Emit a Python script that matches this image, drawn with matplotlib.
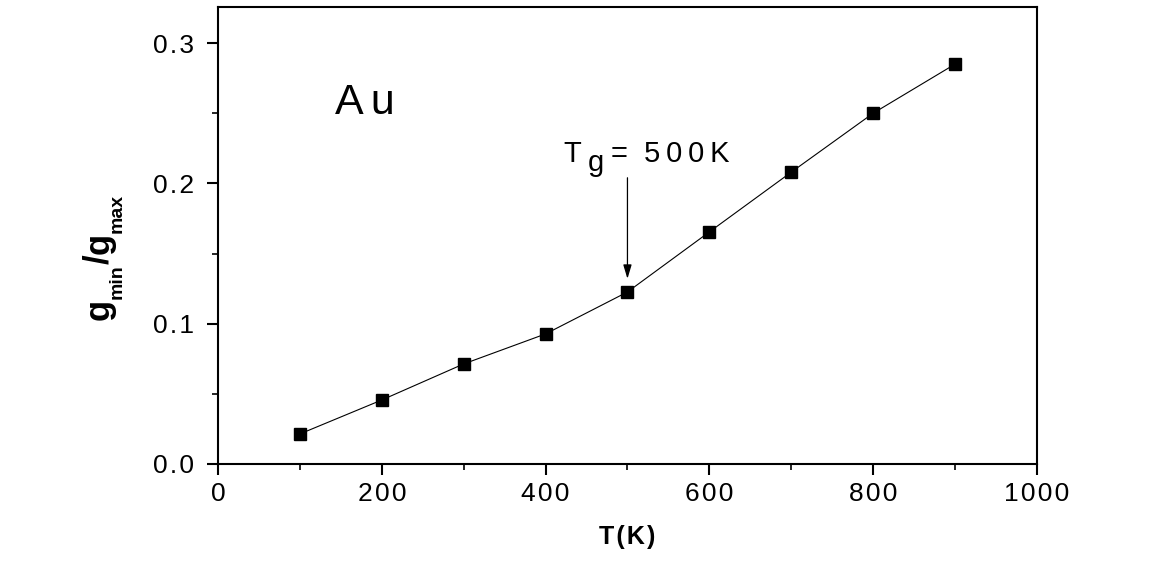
import matplotlib
matplotlib.use("Agg")
import matplotlib.pyplot as plt
from matplotlib.ticker import MultipleLocator

plt.rcParams['font.family'] = ['Liberation Sans', 'DejaVu Sans']

HS = '\u200a'  # hair space for the wide letter spacing of the original
TS = '\u2009'  # thin space

temperature = [100, 200, 300, 400, 500, 600, 700, 800, 900]
ratio = [0.0214, 0.0456, 0.0713, 0.0927, 0.1226, 0.1654, 0.2080, 0.2500, 0.2850]
x_ticks = [0, 200, 400, 600, 800, 1000]
y_ticks = [0.0, 0.1, 0.2, 0.3]
y_tick_labels = ['0.0', '0.1', '0.2', '0.3']


def spaced(s, sep=HS):
    return sep.join(s)


W, H = 1155, 562
fig = plt.figure(figsize=(W / 100, H / 100), dpi=100)
ax = fig.add_axes([0.1887, 0.1744, 0.7091, 0.8131])

ax.plot(temperature, ratio, color='black', linewidth=0.8, marker='s',
        markersize=9.3, markerfacecolor='black', markeredgecolor='black')

ax.set_xlim(0, 1000)
ax.set_ylim(0, 0.3257)
ax.set_xticks(x_ticks)
ax.set_xticklabels([spaced(str(v)) for v in x_ticks])
ax.set_yticks(y_ticks)
ax.set_yticklabels([spaced(s) for s in y_tick_labels])
ax.xaxis.set_minor_locator(MultipleLocator(100))
ax.yaxis.set_minor_locator(MultipleLocator(0.05))
ax.tick_params(axis='both', which='major', direction='out', length=8, width=1.5,
               labelsize=19)
ax.tick_params(axis='x', which='major', pad=5)
ax.tick_params(axis='y', which='major', pad=9)
ax.tick_params(axis='both', which='minor', direction='out', length=4.5, width=1.2)
for s in ax.spines.values():
    s.set_linewidth(1.5)

ax.set_xlabel(spaced('T(K)'), fontsize=18, fontweight='bold', labelpad=14)

# y label g_min/g_max built from pieces (small, low subscripts as in the original)
renderer = fig.canvas.get_renderer()
main_base_x = 108.5
sub_base_x = 122.0
y_disp = H - 320.0
for txt, fs, bx in [('g', 25, main_base_x), ('min', 14, sub_base_x),
                    ('/', 25, main_base_x), ('g', 25, main_base_x),
                    ('max', 14, sub_base_x)]:
    t = fig.text(bx / W, y_disp / H, txt, fontsize=fs, fontweight='bold',
                 rotation=90, rotation_mode='anchor', ha='left', va='baseline')
    bb = t.get_window_extent(renderer)
    y_disp = bb.y1

ax.text(143, 0.2495, 'A' + HS + HS + 'u', fontsize=31, ha='left', va='baseline')
ax.text(432, 0.2153, 'T', fontsize=21, ha='center', va='baseline')
ax.text(452, 0.2085, 'g', fontsize=21, ha='left', va='baseline')
ax.text(479, 0.2153, '=', fontsize=21, ha='left', va='baseline')
ax.text(520, 0.2153, spaced('500K', TS), fontsize=21, ha='left', va='baseline')
ax.annotate('', xy=(500, 0.132), xytext=(500, 0.204),
            arrowprops=dict(arrowstyle='-|>,head_length=0.6,head_width=0.18',
                            color='black', lw=0.9,
                            mutation_scale=14, shrinkA=0, shrinkB=0))

fig.savefig('out.png', dpi=100)
